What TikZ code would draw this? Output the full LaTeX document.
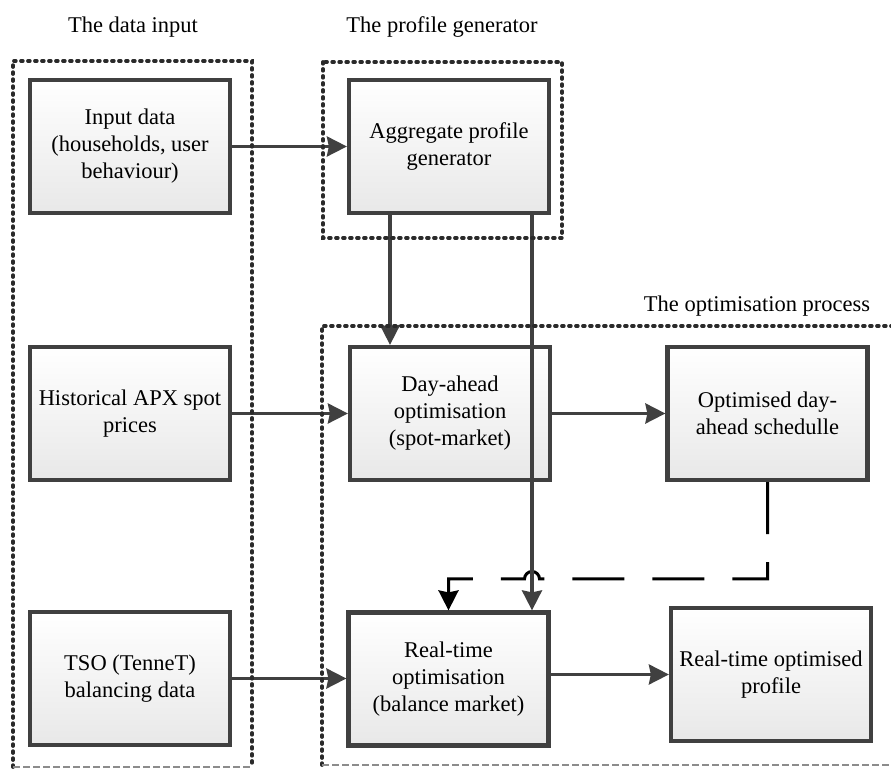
\documentclass[tikz,border=0pt]{standalone}
\usepackage{fontspec}
\setmainfont{Liberation Serif}
\usetikzlibrary{arrows.meta,calc}
\definecolor{edgecol}{HTML}{404040}
\definecolor{framecol}{HTML}{2a2a2a}
\begin{document}
\begin{tikzpicture}[x=0.5pt,y=-0.5pt,
  box/.style={draw=edgecol, line width=2.1pt, top color=white, bottom color=black!9,
    minimum width=100pt, minimum height=66.5pt, align=center, inner sep=2pt,
    font=\fontsize{11.25}{13.5}\selectfont},
  arr/.style={draw=edgecol, line width=1.7pt, -{Stealth[length=10pt,width=10pt,inset=1pt]}},
  dsh/.style={draw=black, line width=1.5pt, dash pattern=on 26pt off 14pt,
    -{Stealth[length=10pt,width=10pt,inset=1pt]}},
  dotframe/.style={draw=framecol, line width=1.9pt, line cap=round, dash pattern=on 0.9pt off 2.6pt},
  greyline/.style={draw=black!45, line width=0.6pt, dash pattern=on 3.5pt off 1.5pt},
  lbl/.style={font=\fontsize{11.25}{13.5}\selectfont}]
\useasboundingbox (0,0) rectangle (891,769);

% labels
\node[lbl] (l1) at (133,27) {The data input};
\node[lbl] (l2) at (442,27) {The profile generator};
\node[lbl] (l3) at (757,306) {The optimisation process};

% boxes
\node[box] (inp) at (130,146.5) {Input data\\(households, user\\behaviour)};
\node[box] (agg) at (449,146.5) {Aggregate profile\\generator};
\node[box] (hist) at (130,413.5) {Historical APX spot\\prices};
\node[box] (day) at (450,413.5) {Day-ahead\\optimisation\\(spot-market)};
\node[box] (opt) at (767.5,413.5) {Optimised day-\\ahead schedulle};
\node[box] (tso) at (130,678.5) {TSO (TenneT)\\balancing data};
\node[box] (rt) at (448.5,679) {Real-time\\optimisation\\(balance market)};
\node[box] (rto) at (771,674.5) {Real-time optimised\\profile};

% connectors
\coordinate (v1) at ([xshift=-29.5pt]agg.south);
\coordinate (v2) at ([xshift=41.5pt]agg.south);
\coordinate (hy) at (0,579);
\draw[arr] (inp.east) -- (agg.west);
\draw[arr] (v1) -- (v1 |- day.north);
\draw[arr] (hist.east) -- (day.west);
\draw[arr] (day.east) -- (opt.west);
\draw[arr] (tso.east) -- (tso.east -| rt.west);
\draw[arr] (rto.west -| rt.east) -- (rto.west);
\draw[dsh] (opt.south) -- (opt.south |- hy) -- ($(v2 |- hy)+(3.75pt,0)$)
  arc[start angle=0,end angle=180,radius=3.75pt] -- (rt.north |- hy) -- (rt.north);
\draw[arr] (v2) -- (v2 |- rt.north);

% frames
\draw[dotframe] (13,767) -- (13,61) -- (252,61) -- (252,767);
\draw[greyline] (13,767) -- (252,767);
\draw[dotframe] (323,62) rectangle (562,238);
\draw[dotframe] (322,765) -- (322,326) -- (891,326);
\draw[greyline] (322,765) -- (891,765);
\end{tikzpicture}
\end{document}
